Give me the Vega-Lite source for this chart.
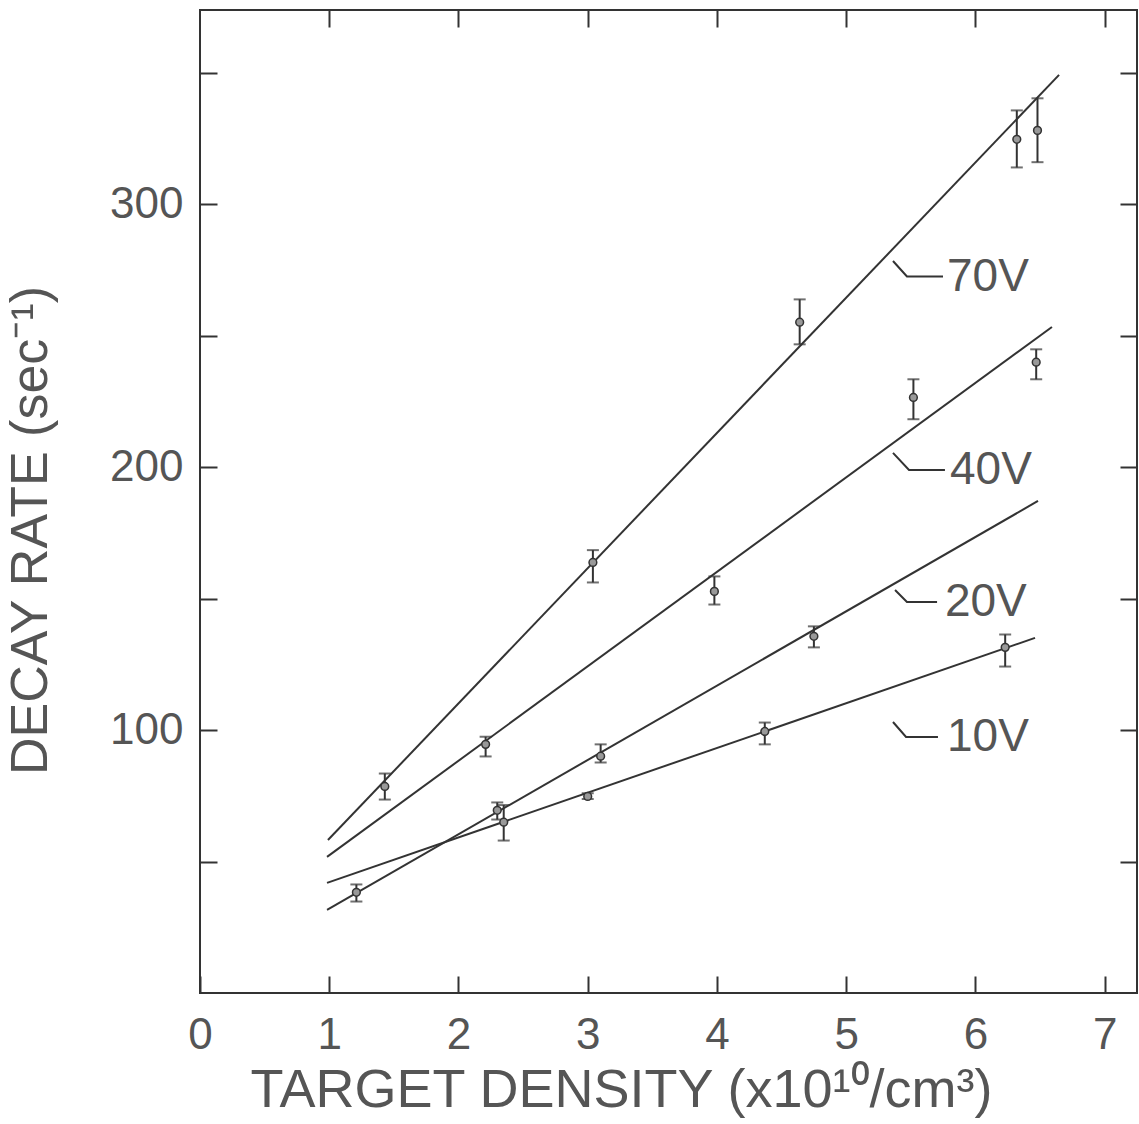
{
  "$schema": "https://vega.github.io/schema/vega-lite/v6.json",
  "width": 937,
  "height": 983,
  "autosize": {"type": "none"},
  "padding": {"left": 200, "top": 10, "right": 2, "bottom": 131},
  "background": "white",
  "config": {
    "view": {"stroke": "#333", "strokeWidth": 2},
    "font": "Liberation Sans"
  },
  "datasets": {
    "fits": [
      {"v": "70V", "x": 0.99, "y": 58.2},
      {"v": "70V", "x": 6.647, "y": 349.3},
      {"v": "40V", "x": 0.983, "y": 51.8},
      {"v": "40V", "x": 6.592, "y": 253.4},
      {"v": "20V", "x": 0.983, "y": 31.6},
      {"v": "20V", "x": 6.484, "y": 187.2},
      {"v": "10V", "x": 0.983, "y": 41.9},
      {"v": "10V", "x": 6.461, "y": 135.1}
    ],
    "points": [
      {"v": "70V", "x": 1.43, "y": 78.6, "lo": 73.6, "hi": 83.5},
      {"v": "70V", "x": 3.04, "y": 163.8, "lo": 156.2, "hi": 168.5},
      {"v": "70V", "x": 4.64, "y": 255.2, "lo": 246.8, "hi": 263.9},
      {"v": "70V", "x": 6.32, "y": 324.8, "lo": 314.1, "hi": 335.8},
      {"v": "70V", "x": 6.48, "y": 328.2, "lo": 316.1, "hi": 340.4},
      {"v": "40V", "x": 2.21, "y": 94.6, "lo": 90.0, "hi": 97.5},
      {"v": "40V", "x": 3.98, "y": 152.8, "lo": 147.8, "hi": 158.5},
      {"v": "40V", "x": 5.52, "y": 226.6, "lo": 218.3, "hi": 233.5},
      {"v": "40V", "x": 6.47, "y": 240.0, "lo": 233.5, "hi": 244.9},
      {"v": "20V", "x": 1.21, "y": 38.3, "lo": 34.8, "hi": 41.3},
      {"v": "20V", "x": 2.30, "y": 69.5, "lo": 66.0, "hi": 72.5},
      {"v": "20V", "x": 3.10, "y": 90.1, "lo": 87.7, "hi": 94.6},
      {"v": "20V", "x": 4.75, "y": 135.7, "lo": 131.5, "hi": 139.5},
      {"v": "10V", "x": 2.35, "y": 65.0, "lo": 58.0, "hi": 71.5},
      {"v": "10V", "x": 3.00, "y": 74.8, "lo": 73.8, "hi": 76.0},
      {"v": "10V", "x": 4.37, "y": 99.5, "lo": 94.6, "hi": 102.9},
      {"v": "10V", "x": 6.23, "y": 131.5, "lo": 124.2, "hi": 136.4}
    ],
    "leaders": [
      {"v": "70V", "i": 0, "x": 5.362, "y": 278.5},
      {"v": "70V", "i": 1, "x": 5.470, "y": 272.6},
      {"v": "70V", "i": 2, "x": 5.749, "y": 272.6},
      {"v": "40V", "i": 0, "x": 5.362, "y": 205.5},
      {"v": "40V", "i": 1, "x": 5.486, "y": 199.0},
      {"v": "40V", "i": 2, "x": 5.764, "y": 199.0},
      {"v": "20V", "i": 0, "x": 5.378, "y": 153.3},
      {"v": "20V", "i": 1, "x": 5.470, "y": 148.8},
      {"v": "20V", "i": 2, "x": 5.703, "y": 148.8},
      {"v": "10V", "i": 0, "x": 5.362, "y": 103.1},
      {"v": "10V", "i": 1, "x": 5.463, "y": 97.4},
      {"v": "10V", "i": 2, "x": 5.710, "y": 97.4}
    ],
    "labels": [
      {"v": "70V", "x": 5.780, "y": 272.6},
      {"v": "40V", "x": 5.803, "y": 199.0},
      {"v": "20V", "x": 5.764, "y": 148.8},
      {"v": "10V", "x": 5.780, "y": 97.4}
    ]
  },
  "layer": [
    {
      "data": {"name": "fits"},
      "mark": {"type": "line", "color": "#333", "strokeWidth": 2},
      "encoding": {
        "x": {
          "field": "x", "type": "quantitative",
          "scale": {"domain": [0, 7.25], "nice": false, "zero": false},
          "axis": {
            "orient": "bottom", "values": [0, 1, 2, 3, 4, 5, 6, 7],
            "tickSize": -17, "tickColor": "#333", "tickWidth": 2,
            "domain": false, "grid": false,
            "labelFontSize": 44, "labelColor": "#555", "labelPadding": 37,
            "labelFlush": false, "labelOverlap": false, "labelBound": false,
            "title": "TARGET DENSITY (x10¹⁰/cm³)",
            "titleFontSize": 54, "titleFontWeight": "normal", "titleColor": "#555",
            "titleX": 421, "titleY": 97, "titleAlign": "center", "titleBaseline": "middle"
          }
        },
        "y": {
          "field": "y", "type": "quantitative",
          "scale": {"domain": [0, 374], "nice": false, "zero": false},
          "axis": {
            "orient": "left", "values": [50, 100, 150, 200, 250, 300, 350],
            "labelExpr": "datum.value % 100 === 0 ? datum.label : ''",
            "tickSize": -17, "tickColor": "#333", "tickWidth": 2,
            "domain": false, "grid": false,
            "labelFontSize": 44, "labelColor": "#555", "labelPadding": 34,
            "labelFlush": false, "labelOverlap": false, "labelBound": false,
            "title": "DECAY RATE (sec⁻¹)",
            "titleFontSize": 52, "titleFontWeight": "normal", "titleColor": "#555",
            "titleX": -170, "titleY": 520, "titleAlign": "center", "titleBaseline": "middle", "titleAngle": -90
          }
        },
        "detail": {"field": "v", "type": "nominal"}
      }
    },
    {
      "data": {"name": "points"},
      "mark": {"type": "rule", "color": "#333", "strokeWidth": 2},
      "encoding": {
        "x": {"field": "x", "type": "quantitative", "axis": null},
        "y": {"field": "lo", "type": "quantitative", "axis": null},
        "y2": {"field": "hi"}
      }
    },
    {
      "data": {"name": "points"},
      "mark": {"type": "tick", "orient": "horizontal", "size": 12, "thickness": 2, "color": "#333"},
      "encoding": {
        "x": {"field": "x", "type": "quantitative", "axis": null},
        "y": {"field": "lo", "type": "quantitative", "axis": null}
      }
    },
    {
      "data": {"name": "points"},
      "mark": {"type": "tick", "orient": "horizontal", "size": 12, "thickness": 2, "color": "#333"},
      "encoding": {
        "x": {"field": "x", "type": "quantitative", "axis": null},
        "y": {"field": "hi", "type": "quantitative", "axis": null}
      }
    },
    {
      "data": {"name": "points"},
      "mark": {"type": "point", "shape": "circle", "filled": true, "size": 60, "fill": "#999", "stroke": "#333", "strokeWidth": 1.5, "opacity": 1},
      "encoding": {
        "x": {
          "field": "x", "type": "quantitative",
          "axis": {
            "orient": "top", "values": [1, 2, 3, 4, 5, 6, 7],
            "tickSize": -17, "tickColor": "#333", "tickWidth": 2,
            "domain": false, "grid": false, "labels": false, "title": null
          }
        },
        "y": {
          "field": "y", "type": "quantitative",
          "axis": {
            "orient": "right", "values": [50, 100, 150, 200, 250, 300, 350],
            "tickSize": -17, "tickColor": "#333", "tickWidth": 2,
            "domain": false, "grid": false, "labels": false, "title": null
          }
        }
      }
    },
    {
      "data": {"name": "leaders"},
      "mark": {"type": "line", "color": "#333", "strokeWidth": 2},
      "encoding": {
        "x": {"field": "x", "type": "quantitative", "axis": null},
        "y": {"field": "y", "type": "quantitative", "axis": null},
        "detail": {"field": "v", "type": "nominal"},
        "order": {"field": "i", "type": "quantitative"}
      }
    },
    {
      "data": {"name": "labels"},
      "mark": {"type": "text", "align": "left", "baseline": "middle", "fontSize": 46, "color": "#555", "font": "Liberation Sans"},
      "encoding": {
        "x": {"field": "x", "type": "quantitative", "axis": null},
        "y": {"field": "y", "type": "quantitative", "axis": null},
        "text": {"field": "v", "type": "nominal"}
      }
    }
  ],
  "resolve": {"axis": {"x": "independent", "y": "independent"}}
}
